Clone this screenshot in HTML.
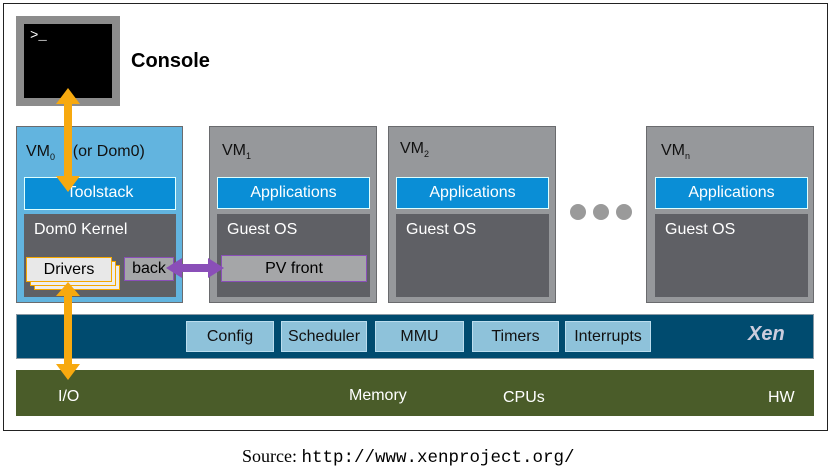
<!DOCTYPE html>
<html><head><style>
body{margin:0;width:831px;height:470px;background:#fff;position:relative;font-family:"Liberation Sans",sans-serif;overflow:hidden}
div{position:absolute;box-sizing:border-box}
.vm{background:#96989b;border:1px solid #6a6b6e}
.app{background:#0a8ed6;border:1px solid #dff;color:#fff;font-size:16px;text-align:center;line-height:29px}
.os{background:#5f6065;color:#fff;font-size:16px;padding:7px 0 0 10px}
.lbl{color:#111;font-size:16px}
.xb{background:#8ec2da;border:1px solid #bde;font-size:16px;text-align:center;line-height:30px;color:#111}
.hw{color:#fff;font-size:16px}
</style></head><body>
<div style="left:3px;top:3px;width:825px;height:428px;border:1px solid #222"></div>
<div style="left:16px;top:16px;width:104px;height:90px;background:#000;border:8px solid #8c8c8c;color:#fff;font-family:'Liberation Mono',monospace;font-size:14px;padding:4px 6px">&gt;_</div>
<div style="left:131px;top:50px;font-weight:bold;font-size:20px">Console</div>

<div style="left:16px;top:126px;width:167px;height:177px;background:#62b4df;border:1px solid #6a6b6e"></div>
<div class="lbl" style="left:26px;top:143px">VM<sub style="font-size:9px">0</sub>&nbsp;&nbsp;&nbsp;&nbsp;(or Dom0)</div>
<div class="app" style="left:24px;top:177px;width:152px;height:33px">Toolstack</div>
<div class="os" style="left:24px;top:214px;width:152px;height:83px">Dom0 Kernel</div>
<div style="left:34px;top:265px;width:86px;height:25px;background:#eee;border:1px solid #f5a800"></div>
<div style="left:30px;top:261px;width:86px;height:25px;background:#eee;border:1px solid #f5a800"></div>
<div style="left:26px;top:257px;width:86px;height:25px;background:#e8e8e8;border:1px solid #f5a800;text-align:center;font-size:16px;line-height:23px">Drivers</div>
<div style="left:124px;top:257px;width:50px;height:24px;background:#a5a6a8;border:1px solid #8a4fb8;font-size:16px;line-height:22px;text-align:center">back</div>

<div class="vm" style="left:209px;top:126px;width:168px;height:177px"></div>
<div class="lbl" style="left:222px;top:142px">VM<sub style="font-size:9px">1</sub></div>
<div class="app" style="left:217px;top:177px;width:153px;height:32px">Applications</div>
<div class="os" style="left:217px;top:214px;width:153px;height:83px">Guest OS</div>
<div style="left:221px;top:255px;width:146px;height:27px;background:#a5a6a8;border:1px solid #8a4fb8;font-size:16px;text-align:center;line-height:26px">PV front</div>

<div class="vm" style="left:388px;top:126px;width:168px;height:177px"></div>
<div class="lbl" style="left:400px;top:140px">VM<sub style="font-size:9px">2</sub></div>
<div class="app" style="left:396px;top:177px;width:153px;height:32px">Applications</div>
<div class="os" style="left:396px;top:214px;width:153px;height:83px">Guest OS</div>

<div style="left:570px;top:204px;width:16px;height:16px;border-radius:50%;background:#9a9a9a"></div>
<div style="left:593px;top:204px;width:16px;height:16px;border-radius:50%;background:#9a9a9a"></div>
<div style="left:616px;top:204px;width:16px;height:16px;border-radius:50%;background:#9a9a9a"></div>

<div class="vm" style="left:646px;top:126px;width:168px;height:177px"></div>
<div class="lbl" style="left:661px;top:142px">VM<sub style="font-size:9px">n</sub></div>
<div class="app" style="left:655px;top:177px;width:153px;height:32px">Applications</div>
<div class="os" style="left:655px;top:214px;width:153px;height:83px">Guest OS</div>

<div style="left:16px;top:314px;width:798px;height:45px;background:#004b6f;border:1px solid #8a9aa5"></div>
<div class="xb" style="left:186px;top:321px;width:88px;height:31px">Config</div>
<div class="xb" style="left:281px;top:321px;width:86px;height:31px">Scheduler</div>
<div class="xb" style="left:375px;top:321px;width:89px;height:31px">MMU</div>
<div class="xb" style="left:472px;top:321px;width:87px;height:31px">Timers</div>
<div class="xb" style="left:565px;top:321px;width:86px;height:31px">Interrupts</div>
<div style="left:748px;top:323px;color:#ccd;font-weight:bold;font-style:italic;font-size:20px">Xen</div>

<div style="left:16px;top:370px;width:798px;height:46px;background:#4a5c29"></div>
<div class="hw" style="left:58px;top:388px">I/O</div>
<div class="hw" style="left:349px;top:387px">Memory</div>
<div class="hw" style="left:503px;top:389px">CPUs</div>
<div class="hw" style="left:768px;top:389px">HW</div>

<svg style="position:absolute;left:0;top:0" width="831" height="470">
<g fill="#f7a90f">
<rect x="64" y="102" width="8" height="78"/>
<polygon points="56,104 68,88 80,104"/>
<polygon points="56,176 68,192 80,176"/>
<rect x="64" y="292" width="8" height="74"/>
<polygon points="56,296 68,282 80,296"/>
<polygon points="56,364 68,380 80,364"/>
</g>
<g fill="#8a4fb8">
<rect x="180" y="264" width="32" height="8"/>
<polygon points="182,258 166,268 182,278"/>
<polygon points="208,258 224,268 208,278"/>
</g>
</svg>
<div style="left:242px;top:446px;font-family:'Liberation Serif',serif;font-size:18px">Source: <span style="font-family:'Liberation Mono',monospace;font-size:17.5px">http://www.xenproject.org/</span></div>
</body></html>
